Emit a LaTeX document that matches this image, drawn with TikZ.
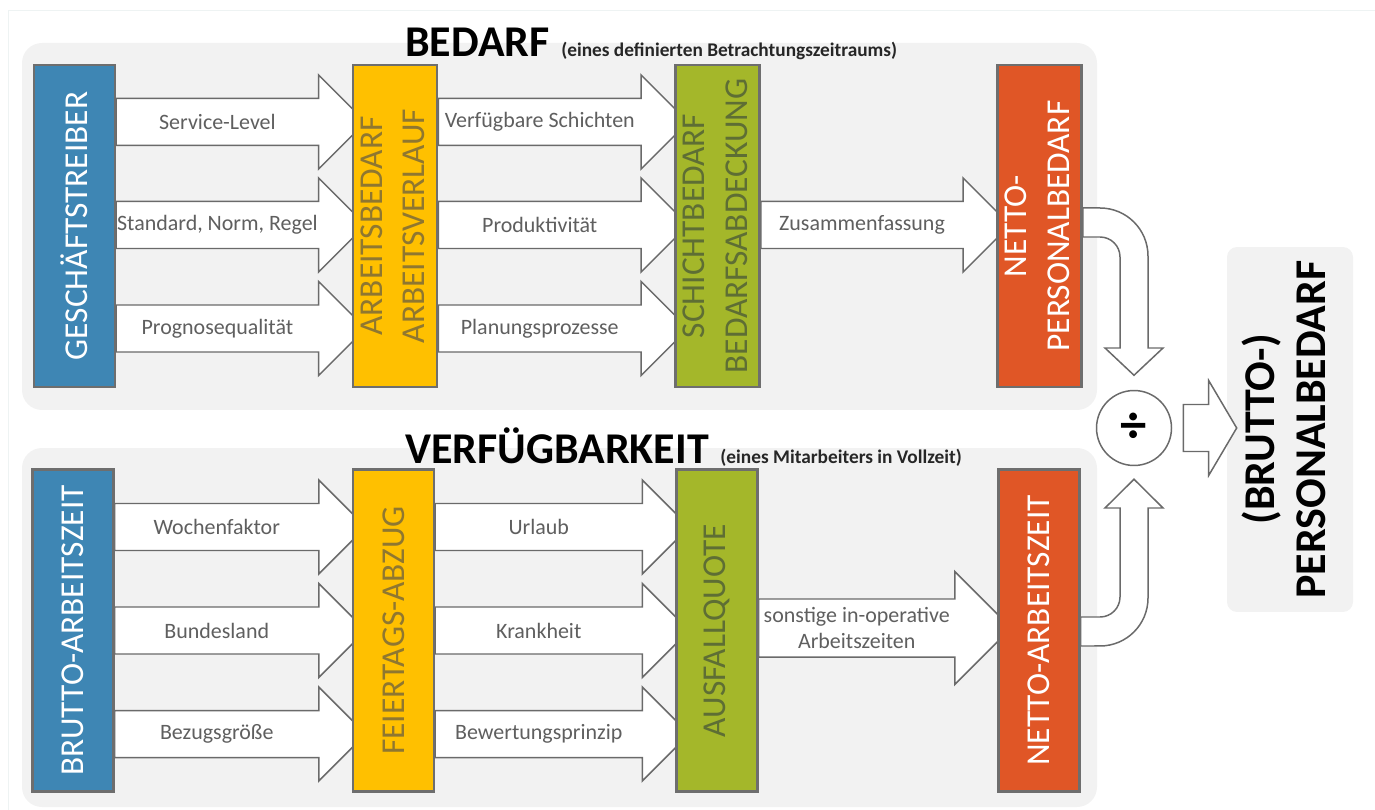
\documentclass[tikz,border=0pt]{standalone}
\usepackage{fontspec}
\setmainfont{Carlito}
\usepackage{graphicx}
\usetikzlibrary{calc}

\definecolor{panelgrey}{HTML}{F2F2F2}
\definecolor{boxline}{HTML}{6E6E6E}
\definecolor{arrowline}{HTML}{6A6A6A}
\definecolor{labelgrey}{HTML}{5F5F5F}
\definecolor{treiberblue}{HTML}{3E86B4}
\definecolor{bedarfyellow}{HTML}{FFC000}
\definecolor{yellowtext}{HTML}{8F7730}
\definecolor{schichtgreen}{HTML}{A4B72A}
\definecolor{greentext}{HTML}{5E6E34}
\definecolor{nettoorange}{HTML}{E05626}
\definecolor{framegrey}{HTML}{EEF3F3}

\pgfdeclarelayer{back}
\pgfdeclarelayer{flows}
\pgfsetlayers{back,flows,main}

\tikzset{
  stage/.style={draw=boxline, line width=1.4pt, minimum width=1.62cm, minimum height=6.44cm, inner sep=0pt, font=\fontsize{19}{24}\selectfont},
  flowarrow/.style={draw=arrowline, line width=0.85pt, fill=white},
  flowlabel/.style={text=labelgrey, inner sep=0pt, align=center, font=\fontsize{12.5}{15}\selectfont},
  heading/.style={inner sep=0pt, anchor=base west, font=\fontsize{25}{30}\selectfont\bfseries},
  subheading/.style={inner sep=0pt, anchor=base west, text=black!85, font=\fontsize{11}{13}\selectfont\bfseries},
  panel/.style={fill=panelgrey, rounded corners=0.4cm},
}

% block arrow: from, to, row y, shaft half, head half, label name, label
\newcommand{\stageflow}[7]{%
  \coordinate (fa) at (#1.east |- 0,#3);
  \coordinate (fb) at ($(#2.west |- 0,#3)+(14-#5,0)$);
  \coordinate (ft) at ($(#2.west |- 0,#3)+(14,0)$);
  \draw[flowarrow] ($(fa)+(0,-#4)$) -- ($(fb)+(0,-#4)$) -- ($(fb)+(0,-#5)$) -- (ft)
    -- ($(fb)+(0,#5)$) -- ($(fb)+(0,#4)$) -- ($(fa)+(0,#4)$) -- cycle;
  \node[flowlabel] (#6) at ($(fa)!0.5!(fb)$) {#7};
}

\begin{document}
\begin{tikzpicture}[x=0.02cm, y=-0.02cm]
  \useasboundingbox (0,0) rectangle (1375,810);

  \begin{pgfonlayer}{back}
    \draw[framegrey] (8,810) -- (8,10) -- (1375,10);
    \fill[panel] (22,43) rectangle (1097,410);
    \fill[panel] (22,448) rectangle (1097,807);
  \end{pgfonlayer}

  % headings
  \node[heading] (bedarf) at (405,57) {BEDARF};
  \node[subheading] (bedarfnote) at ([xshift=0.22cm]bedarf.base east) {(eines definierten Betrachtungszeitraums)};
  \node[heading] (verfueg) at (405,463) {VERFÜGBARKEIT};
  \node[subheading] (verfuegnote) at ([xshift=0.22cm]verfueg.base east) {(eines Mitarbeiters in Vollzeit)};

  % Bedarf
  \node[stage, fill=treiberblue, text=white] (treiber) at (74.5,226) {\rotatebox{90}{GESCHÄFTSTREIBER}};
  \node[stage, fill=bedarfyellow, text=yellowtext] (abedarf) at (395,226) {\rotatebox{90}{\begin{tabular}{@{}c@{}}ARBEITSBEDARF\\ARBEITSVERLAUF\end{tabular}}};
  \node[stage, fill=schichtgreen, text=greentext] (schicht) at (717.5,226) {\rotatebox{90}{\begin{tabular}{@{}c@{}}SCHICHTBEDARF\\BEDARFSABDECKUNG\end{tabular}}};
  \node[stage, fill=nettoorange, text=white] (pbedarf) at (1039.5,226) {\rotatebox{90}{\begin{tabular}{@{}c@{}}NETTO-\\PERSONALBEDARF\end{tabular}}};

  % Verfuegbarkeit
  \node[stage, fill=treiberblue, text=white] (bzeit) at (73,630.5) {\rotatebox{90}{BRUTTO-ARBEITSZEIT}};
  \node[stage, fill=bedarfyellow, text=yellowtext] (feier) at (393.5,630.5) {\rotatebox{90}{FEIERTAGS-ABZUG}};
  \node[stage, fill=schichtgreen, text=greentext] (ausfall) at (717,630.5) {\rotatebox{90}{AUSFALLQUOTE}};
  \node[stage, fill=nettoorange, text=white] (nazeit) at (1039,630.5) {\rotatebox{90}{NETTO-ARBEITSZEIT}};

  \begin{pgfonlayer}{flows}
    \stageflow{treiber}{abedarf}{122}{23.5}{47}{lservice}{Service-Level}
    \stageflow{treiber}{abedarf}{225}{23.5}{47}{lnorm}{Standard, Norm, Regel}
    \stageflow{treiber}{abedarf}{328.5}{23.5}{47}{lprognose}{Prognosequalität}
    \stageflow{abedarf}{schicht}{122}{23.5}{47}{lschichten}{Verfügbare Schichten}
    \stageflow{abedarf}{schicht}{225}{23.5}{47}{lprodukt}{Produktivität}
    \stageflow{abedarf}{schicht}{328.5}{23.5}{47}{lplanung}{Planungsprozesse}
    \stageflow{schicht}{pbedarf}{225}{23.5}{47}{lzusammen}{Zusammenfassung}

    \stageflow{bzeit}{feier}{527}{23.5}{47}{lwoche}{Wochenfaktor}
    \stageflow{bzeit}{feier}{630.5}{23.5}{47}{lland}{Bundesland}
    \stageflow{bzeit}{feier}{734}{23.5}{47}{lbezug}{Bezugsgröße}
    \stageflow{feier}{ausfall}{527}{23.5}{47}{lurlaub}{Urlaub}
    \stageflow{feier}{ausfall}{630.5}{23.5}{47}{lkrank}{Krankheit}
    \stageflow{feier}{ausfall}{734}{23.5}{47}{lbewertung}{Bewertungsprinzip}
    \stageflow{ausfall}{nazeit}{628}{29}{56.5}{lsonstige}{sonstige in-operative\\Arbeitszeiten}
  \end{pgfonlayer}

  \node[circle, draw=arrowline, line width=0.85pt, fill=white, minimum size=1.5cm, inner sep=0pt, font=\fontsize{30}{30}\selectfont\bfseries] (div) at (1134,428) {÷};

  \begin{pgfonlayer}{flows}
    \draw[flowarrow] (pbedarf.east |- 0,208) -- (1100,208) arc[start angle=90, end angle=0, radius=0.96cm]
      -- (1148,348) -- (1163,348) -- ($(div.north)+(0,-14.5)$) -- (1105,348) -- (1120,348)
      -- (1120,257) arc[start angle=0, end angle=90, radius=0.4cm] -- (pbedarf.east |- 0,237) -- cycle;
    \draw[flowarrow] (nazeit.east |- 0,617) -- (1100,617) arc[start angle=-90, end angle=0, radius=0.4cm]
      -- (1120,508) -- (1105,508) -- ($(div.south)+(0,13)$) -- (1163,508) -- (1148,508)
      -- (1148,598) arc[start angle=0, end angle=-90, radius=0.96cm] -- (nazeit.east |- 0,646) -- cycle;
  \end{pgfonlayer}

  \node[fill=panelgrey, rounded corners=0.2cm, minimum width=2.52cm, minimum height=7.3cm, inner sep=0pt, font=\fontsize{25}{29}\selectfont\bfseries] (result) at (1290,429.5) {\rotatebox{90}{\begin{tabular}{@{}c@{}}(BRUTTO-)\\PERSONALBEDARF\end{tabular}}};

  \draw[flowarrow] ($(div.east)+(11,-23.5)$) -- ($(result.west |- div.east)+(-18,-23.5)$) -- ++(0,-24)
    -- ($(result.west |- div.east)+(10,0)$) -- ($(result.west |- div.east)+(-18,47.5)$) -- ++(0,-24)
    -- ($(div.east)+(11,23.5)$) -- cycle;
\end{tikzpicture}
\end{document}
